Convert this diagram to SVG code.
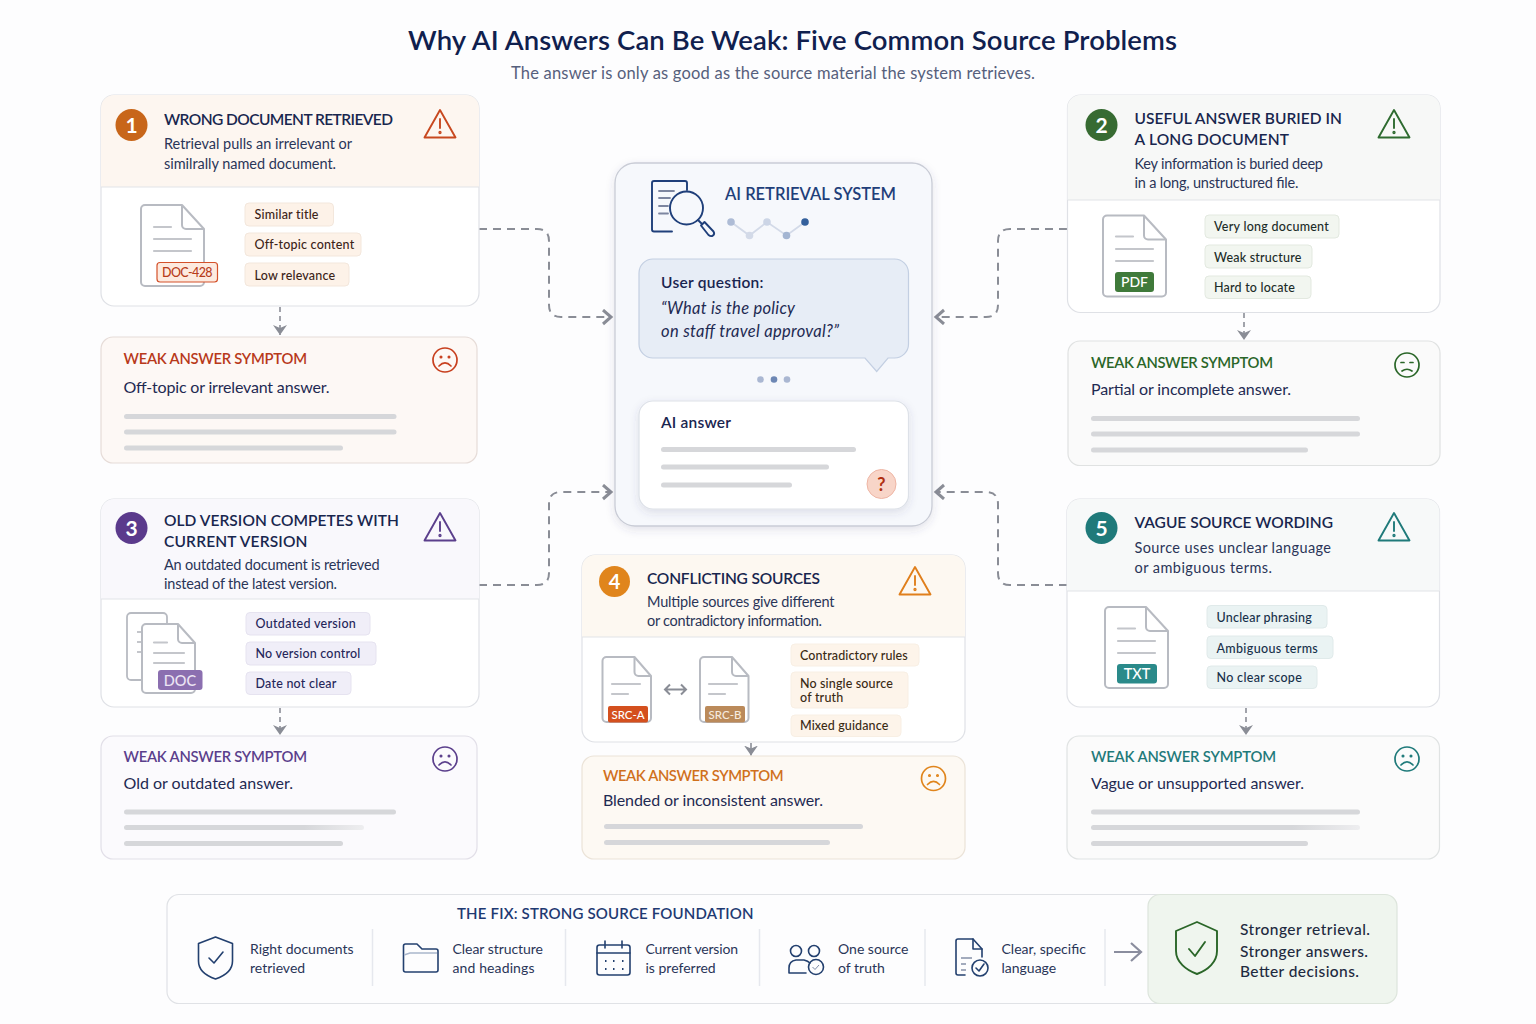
<svg xmlns="http://www.w3.org/2000/svg" width="1536" height="1024" viewBox="0 0 1536 1024">
<style>
text{font-family:"Lato","Noto Sans","Liberation Sans",sans-serif;fill:#1e2a52}
.h1{font-size:27.5px;font-weight:600;fill:#10204e}
.sub{font-size:16.5px;fill:#56607c}
.t{font-size:15.5px;font-weight:600;fill:#18264e}
.d{font-size:14.5px;fill:#2a3558}
.tag{font-size:12.5px;font-weight:500;letter-spacing:.2px}
.st{font-size:14.800px;font-weight:600}
.sd{font-size:16px;fill:#1f2a52}
.num{font-size:21px;font-weight:700;fill:#fff;text-anchor:middle}
.lbl{font-weight:700;text-anchor:middle;fill:#fff}
.card{fill:#fff;stroke:#dfe1e6;stroke-width:1.2}
.div{stroke:#e2e3e8;stroke-width:1.2}
.bar{fill:#d6d7da}
.chip{stroke-width:1}
.fx{font-size:14px;fill:#2a3558}
.fd{stroke:#e6e8ee;stroke-width:1.5}
.ic{fill:none;stroke:#23406f;stroke-width:1.6;stroke-linejoin:round;stroke-linecap:round}
.ln{stroke:#c4c6cb;stroke-width:2.2;stroke-linecap:round}
.dash{fill:none;stroke:#8a8d96;stroke-width:2;stroke-dasharray:8 6}
.dn{fill:none;stroke:#8a8d96;stroke-width:1.6;stroke-dasharray:5 4}
</style>
<defs>
<filter id="sh" x="-10%" y="-10%" width="120%" height="125%"><feDropShadow dx="0" dy="3" stdDeviation="4" flood-color="#3c4a70" flood-opacity=".14"/></filter>
<linearGradient id="fade"><stop offset=".75" stop-color="#d6d7da"/><stop offset="1" stop-color="#eeeef0"/></linearGradient>
<marker id="ch" markerUnits="userSpaceOnUse" markerWidth="16" markerHeight="18" refX="12" refY="8" orient="auto"><path d="M4 1L12 8L4 15" fill="none" stroke="#8a8d96" stroke-width="3"/></marker>
<marker id="tip" markerUnits="userSpaceOnUse" markerWidth="14" markerHeight="14" refX="10" refY="7" orient="auto"><path d="M0 0L10 7L0 14L3 7Z" fill="#8a8d96"/></marker>
<g id="warn" fill="none" stroke="currentColor" stroke-width="1.9" stroke-linejoin="round" stroke-linecap="round"><path d="M0 0L15.500 27.500H-15.500Z"/><path d="M0 9V18"/><circle cx="0" cy="22.500" r=".7"/></g>
<g id="sad" fill="none" stroke="currentColor" stroke-width="1.7" stroke-linecap="round"><circle r="12"/><circle cx="-4" cy="-3" r=".7"/><circle cx="4" cy="-3" r=".7"/><path d="M-6 6Q0 0 6 6"/></g>
<g id="doc" fill="#fff" stroke="#b8bbc2" stroke-width="2" stroke-linejoin="round"><path d="M4 0H41L63 24V77a4 4 0 0 1-4 4H4a4 4 0 0 1-4-4V4a4 4 0 0 1 4-4Z"/><path d="M41 0V20a4 4 0 0 0 4 4H63" fill="none"/></g>
<g id="mdoc" fill="#fff" stroke="#b8bbc2" stroke-width="2" stroke-linejoin="round"><path d="M4 0H32L48.500 19V61a4 4 0 0 1-4 4H4a4 4 0 0 1-4-4V4a4 4 0 0 1 4-4Z"/><path d="M32 0V15a4 4 0 0 0 4 4H48.500" fill="none"/></g>
<path id="shield" d="M0 -21L17 -14.500V3C17 12 9 18 0 21C-9 18 -17 12 -17 3V-14.500Z"/>
</defs>
<rect width="1536" height="1024" fill="#fdfdfe"/>
<g id="title"><text class="h1" x="408" y="50" textLength="769">Why AI Answers Can Be Weak: Five Common Source Problems</text>
<text class="sub" x="511" y="79" textLength="524">The answer is only as good as the source material the system retrieves.</text></g>

<g id="connectors">
<path class="dash" marker-end="url(#ch)" d="M479 229H537Q549 229 549 241V305Q549 317 561 317H611"/>
<path class="dash" marker-end="url(#ch)" d="M1067 229H1010Q998 229 998 241V305Q998 317 986 317H936"/>
<path class="dash" marker-end="url(#ch)" d="M479 585H537Q549 585 549 573V504Q549 492 561 492H611"/>
<path class="dash" marker-end="url(#ch)" d="M1067 585H1010Q998 585 998 573V504Q998 492 986 492H936"/>
<path class="dn" marker-end="url(#tip)" d="M280 307V335"/>
<path class="dn" marker-end="url(#tip)" d="M280 708V735"/>
<path class="dn" marker-end="url(#tip)" d="M1244 313V340"/>
<path class="dn" marker-end="url(#tip)" d="M1246 708V735"/>
<path fill="none" stroke="#8a8d96" stroke-width="1.600" marker-end="url(#tip)" d="M751 743V755.500"/>
</g>

<g id="card-1">
<rect class="card" x="101" y="95" width="378" height="211" rx="13"/>
<path d="M101 187V108a13 13 0 0 1 13-13H466a13 13 0 0 1 13 13V187Z" fill="#fdf6f0"/>
<line class="div" x1="101" y1="187" x2="479" y2="187"/>
<circle cx="131.500" cy="125" r="16" fill="#c8661a"/><text class="num" x="131.500" y="132.500">1</text>
<text class="t" x="164" y="125" textLength="229">WRONG DOCUMENT RETRIEVED</text>
<text class="d" x="164" y="149" textLength="188">Retrieval pulls an irrelevant or</text>
<text class="d" x="164" y="169" textLength="172">similrally named document.</text>
<use href="#warn" x="440" y="110" color="#c8481f"/>
<use href="#doc" x="141" y="205"/>
<line class="ln" x1="154" y1="227" x2="171" y2="227"/><line class="ln" x1="154" y1="239" x2="191" y2="239"/><line class="ln" x1="154" y1="251" x2="191" y2="251"/>
<rect x="157" y="262.500" width="60.500" height="19.500" rx="3" fill="#fdeadf" stroke="#d4512a" stroke-width="1.200"/>
<text x="162" y="277" textLength="50.500" font-size="12.500" font-weight="500" style="fill:#b83c1a">DOC-428</text>
<g fill="#fdf2e8" stroke="#f3e7dc"><rect class="chip" x="245" y="203" width="88.500" height="23" rx="4"/><rect class="chip" x="245" y="233" width="116" height="23" rx="4"/><rect class="chip" x="245" y="263" width="104" height="23" rx="4"/></g>
<text class="tag" x="254.500" y="218.500" style="fill:#3c2418">Similar title</text><text class="tag" x="254.500" y="249" style="fill:#3c2418">Off-topic content</text><text class="tag" x="254.500" y="279.500" style="fill:#3c2418">Low relevance</text>
</g>
<g id="symptom-1">
<rect x="101" y="337" width="376" height="126" rx="12" fill="#fdf8f5" stroke="#e6dcd8" stroke-width="1.200"/>
<text class="st" x="123.500" y="364" textLength="183.500" style="fill:#b8391a">WEAK ANSWER SYMPTOM</text>
<text class="sd" x="123.500" y="393" textLength="206">Off-topic or irrelevant answer.</text>
<use href="#sad" x="445" y="360" color="#c8401f"/>
<rect class="bar" x="124" y="414" width="272.500" height="5" rx="2.500"/><rect class="bar" x="124" y="429.500" width="272.500" height="5" rx="2.500"/><rect class="bar" x="124" y="445.500" width="219" height="5" rx="2.500"/>
</g>

<g id="card-2">
<rect class="card" x="1067.500" y="95" width="372.500" height="217.500" rx="13"/>
<path d="M1067.500 200V108a13 13 0 0 1 13-13H1427a13 13 0 0 1 13 13V200Z" fill="#f7f8f7"/>
<line class="div" x1="1067.500" y1="200" x2="1440" y2="200"/>
<circle cx="1101.500" cy="125" r="16" fill="#376b32"/><text class="num" x="1101.500" y="132.500">2</text>
<text class="t" x="1134.500" y="124" textLength="207.500">USEFUL ANSWER BURIED IN</text>
<text class="t" x="1134.500" y="145" textLength="154.500">A LONG DOCUMENT</text>
<text class="d" x="1134.500" y="169" textLength="188.500">Key information is buried deep</text>
<text class="d" x="1134.500" y="188" textLength="164">in a long, unstructured file.</text>
<use href="#warn" x="1394" y="110" color="#2e6b30"/>
<use href="#doc" x="1103" y="215.500"/>
<line class="ln" x1="1116" y1="236.500" x2="1133" y2="236.500"/><line class="ln" x1="1116" y1="249" x2="1153" y2="249"/><line class="ln" x1="1116" y1="261" x2="1153" y2="261"/>
<rect x="1115" y="272" width="39" height="20" rx="3" fill="#3f7a3a"/>
<text class="lbl" x="1134.500" y="287" font-size="14" style="font-weight:500">PDF</text>
<g fill="#f2f6f0" stroke="#e3e9e0"><rect class="chip" x="1205" y="215" width="134" height="23" rx="4"/><rect class="chip" x="1205" y="245" width="107" height="23" rx="4"/><rect class="chip" x="1205" y="276" width="106" height="22.500" rx="4"/></g>
<text class="tag" x="1214" y="231" textLength="115" style="fill:#1c2c28">Very long document</text><text class="tag" x="1214" y="261.500" style="fill:#1c2c28">Weak structure</text><text class="tag" x="1214" y="292" style="fill:#1c2c28">Hard to locate</text>
</g>
<g id="symptom-2">
<rect x="1068" y="341" width="372" height="124.500" rx="12" fill="#fafafa" stroke="#e0e2e2" stroke-width="1.200"/>
<text class="st" x="1091" y="367.500" textLength="182" style="fill:#2a6628">WEAK ANSWER SYMPTOM</text>
<text class="sd" x="1091" y="395" textLength="200">Partial or incomplete answer.</text>
<g fill="none" stroke="#2a6628" stroke-width="1.700" stroke-linecap="round"><circle cx="1407" cy="365" r="12"/><path d="M1401 362.500H1404M1410 362.500H1413M1402 371Q1407 367.500 1412 371"/></g>
<rect class="bar" x="1091" y="416" width="269" height="5" rx="2.500"/><rect class="bar" x="1091" y="431.500" width="269" height="5" rx="2.500"/><rect class="bar" x="1091" y="447.500" width="217" height="5" rx="2.500"/>
</g>

<g id="card-3">
<rect class="card" x="101" y="499" width="378" height="208" rx="13"/>
<path d="M101 599V512a13 13 0 0 1 13-13H466a13 13 0 0 1 13 13V599Z" fill="#f9f8fc"/>
<line class="div" x1="101" y1="599" x2="479" y2="599"/>
<circle cx="131.500" cy="528" r="16" fill="#5b3a8c"/><text class="num" x="131.500" y="535.500">3</text>
<text class="t" x="164" y="526" textLength="235">OLD VERSION COMPETES WITH</text>
<text class="t" x="164" y="547" textLength="143.500">CURRENT VERSION</text>
<text class="d" x="164" y="570" textLength="215.500">An outdated document is retrieved</text>
<text class="d" x="164" y="589" textLength="173">instead of the latest version.</text>
<use href="#warn" x="440" y="513" color="#5b3f8c"/>
<rect x="127" y="613" width="40" height="67" rx="4" fill="#fff" stroke="#b8bbc2" stroke-width="1.800"/>
<path d="M137 632h5M137 642h5M137 652h5" stroke="#c4c6cb" stroke-width="2"/>
<g fill="#fff" stroke="#b8bbc2" stroke-width="2" stroke-linejoin="round"><path d="M146 624H178L195 643V689a4 4 0 0 1-4 4H146a4 4 0 0 1-4-4V628a4 4 0 0 1 4-4Z"/><path d="M178 624V639a4 4 0 0 0 4 4H195" fill="none"/></g>
<line class="ln" x1="154" y1="642.500" x2="167" y2="642.500"/><line class="ln" x1="154" y1="653" x2="184" y2="653"/><line class="ln" x1="154" y1="663" x2="184" y2="663"/>
<rect x="158" y="670" width="44.500" height="20" rx="3" fill="#8b6fb0"/>
<text x="180" y="685.500" text-anchor="middle" font-size="14.500" font-weight="500" style="fill:#ece5f4">DOC</text>
<g fill="#f0eef8" stroke="#e6e3f0"><rect class="chip" x="246" y="612.500" width="124" height="22.500" rx="4"/><rect class="chip" x="246" y="642" width="130" height="23" rx="4"/><rect class="chip" x="246" y="672" width="105" height="22.500" rx="4"/></g>
<text class="tag" x="255.500" y="628" textLength="100.500" style="fill:#25265a">Outdated version</text><text class="tag" x="255.500" y="658" textLength="105" style="fill:#25265a">No version control</text><text class="tag" x="255.500" y="688" textLength="81" style="fill:#25265a">Date not clear</text>
</g>
<g id="symptom-3">
<rect x="101" y="736" width="376" height="123" rx="12" fill="#fbfafd" stroke="#e2dfe8" stroke-width="1.200"/>
<text class="st" x="123.500" y="762" textLength="183.500" style="fill:#5b3f8c">WEAK ANSWER SYMPTOM</text>
<text class="sd" x="123.500" y="789" textLength="169.500">Old or outdated answer.</text>
<use href="#sad" x="445" y="759" color="#5b3f8c"/>
<rect class="bar" x="124" y="809.500" width="272" height="5" rx="2.500"/><rect x="124" y="825" width="240" height="5" rx="2.500" fill="url(#fade)"/><rect class="bar" x="124" y="841" width="219" height="5" rx="2.500"/>
</g>

<g id="card-4">
<rect class="card" x="582" y="555" width="383" height="187" rx="13"/>
<path d="M582 637V568a13 13 0 0 1 13-13H952a13 13 0 0 1 13 13V637Z" fill="#fdf8f1"/>
<line class="div" x1="582" y1="637" x2="965" y2="637"/>
<circle cx="614.500" cy="581.500" r="15.500" fill="#e0851c"/><text class="num" x="614.500" y="588.500" style="font-size:20px">4</text>
<text class="t" x="647" y="583.500" textLength="173">CONFLICTING SOURCES</text>
<text class="d" x="647" y="607" textLength="187.500">Multiple sources give different</text>
<text class="d" x="647" y="626" textLength="175">or contradictory information.</text>
<use href="#warn" x="915" y="567" color="#e07f1c"/>
<use href="#mdoc" x="602.500" y="657"/>
<line class="ln" x1="612" y1="684" x2="640" y2="684"/><line class="ln" x1="612" y1="694" x2="628" y2="694"/>
<rect x="608" y="706" width="40" height="16.500" rx="2" fill="#d4501e"/>
<text class="lbl" x="628" y="718.500" font-size="11.500" style="font-weight:500">SRC-A</text>
<use href="#mdoc" x="700" y="657"/>
<line class="ln" x1="709" y1="684" x2="737" y2="684"/><line class="ln" x1="709" y1="694" x2="725" y2="694"/>
<rect x="705" y="706" width="40" height="16.500" rx="2" fill="#bb8a5a"/>
<text class="lbl" x="725" y="718.500" font-size="11.500" style="font-weight:500;fill:#f6ebdf">SRC-B</text>
<path d="M665 689.500H686M670 684.500L665 689.500L670 694.500M681 684.500L686 689.500L681 694.500" fill="none" stroke="#8a8d96" stroke-width="2"/>
<g fill="#fdf4ea" stroke="#f8efe4"><rect class="chip" x="791" y="644" width="128" height="22" rx="4"/><rect class="chip" x="791" y="672" width="117" height="36" rx="4"/><rect class="chip" x="791" y="715" width="110" height="21.500" rx="4"/></g>
<text class="tag" x="800" y="659.500" textLength="108" style="fill:#3a2a14">Contradictory rules</text><text class="tag" x="800" y="687.500" textLength="93" style="fill:#3a2a14">No single source</text><text class="tag" x="800" y="702" style="fill:#3a2a14">of truth</text><text class="tag" x="800" y="730" textLength="88.500" style="fill:#3a2a14">Mixed guidance</text>
</g>
<g id="symptom-4">
<rect x="582" y="756" width="383" height="103" rx="12" fill="#fdf9f3" stroke="#ebe3d8" stroke-width="1.200"/>
<text class="st" x="603" y="781" textLength="180.500" style="fill:#d0701c">WEAK ANSWER SYMPTOM</text>
<text class="sd" x="603" y="805.500" textLength="220">Blended or inconsistent answer.</text>
<use href="#sad" x="933.500" y="778.500" color="#e0851c"/>
<rect class="bar" x="604" y="824" width="259" height="5" rx="2.500"/><rect class="bar" x="604" y="840" width="226" height="5" rx="2.500"/>
</g>

<g id="card-5">
<rect class="card" x="1067" y="499" width="372.500" height="208" rx="13"/>
<path d="M1067 591V512a13 13 0 0 1 13-13H1426.500a13 13 0 0 1 13 13V591Z" fill="#f7f9f9"/>
<line class="div" x1="1067" y1="591" x2="1439.500" y2="591"/>
<circle cx="1101.500" cy="528" r="16" fill="#1f7a7a"/><text class="num" x="1101.500" y="535.500">5</text>
<text class="t" x="1134.500" y="527.500" textLength="198.500">VAGUE SOURCE WORDING</text>
<text class="d" x="1134.500" y="553" textLength="196.500">Source uses unclear language</text>
<text class="d" x="1134.500" y="573" textLength="137.500">or ambiguous terms.</text>
<use href="#warn" x="1394" y="513" color="#1f7a7a"/>
<use href="#doc" x="1105" y="607"/>
<line class="ln" x1="1118" y1="628.500" x2="1135" y2="628.500"/><line class="ln" x1="1118" y1="641" x2="1155" y2="641"/><line class="ln" x1="1118" y1="653" x2="1155" y2="653"/>
<rect x="1117" y="664" width="40" height="19.500" rx="3" fill="#2a8a8a"/>
<text class="lbl" x="1137" y="679" font-size="14.500" style="font-weight:500">TXT</text>
<g fill="#eaf3f3" stroke="#e0eaea"><rect class="chip" x="1207" y="605.500" width="120" height="22.500" rx="4"/><rect class="chip" x="1207" y="636" width="126" height="22.500" rx="4"/><rect class="chip" x="1207" y="666" width="110" height="22.500" rx="4"/></g>
<text class="tag" x="1216.500" y="622" textLength="95.500" style="fill:#17304a">Unclear phrasing</text><text class="tag" x="1216.500" y="652.500" textLength="101.500" style="fill:#17304a">Ambiguous terms</text><text class="tag" x="1216.500" y="682" textLength="85.500" style="fill:#17304a">No clear scope</text>
</g>
<g id="symptom-5">
<rect x="1067" y="736" width="372.500" height="123" rx="12" fill="#fbfbfb" stroke="#e0e3e3" stroke-width="1.200"/>
<text class="st" x="1091" y="762" textLength="185" style="fill:#1f7a7a">WEAK ANSWER SYMPTOM</text>
<text class="sd" x="1091" y="789" textLength="213">Vague or unsupported answer.</text>
<use href="#sad" x="1407" y="759" color="#1f7a7a"/>
<rect class="bar" x="1091" y="809.500" width="269" height="5" rx="2.500"/><rect x="1091" y="825" width="269" height="5" rx="2.500" fill="url(#fade)"/><rect class="bar" x="1091" y="841" width="217" height="5" rx="2.500"/>
</g>

<g id="ai-system">
<rect x="615" y="163" width="317" height="363" rx="20" fill="#f6f8fc" stroke="#c9ccd6" stroke-width="1.300" filter="url(#sh)"/>
<g fill="none" stroke="#1f3f7a" stroke-width="1.900" stroke-linejoin="round" stroke-linecap="round">
<path d="M672 231.500H654a2 2 0 0 1-2-2V183a2 2 0 0 1 2-2H685a2 2 0 0 1 2 2V190"/>
<circle cx="686.500" cy="208" r="16.500" fill="#f6f8fc"/>
<path d="M698 220L702 224"/><path d="M701 225.500L704.500 222L713.500 231.500Q715 234 713 235.500Q711 237 708.500 235Z"/></g>
<path d="M659 191H674M659 198H670M659 206H668M659 213.500H668" stroke="#7d86a0" stroke-width="1.800" stroke-linecap="round"/>
<text x="725" y="199.500" textLength="171" font-size="16.500" font-weight="600" style="fill:#1f3f7a">AI RETRIEVAL SYSTEM</text>
<path d="M731 222L749.500 235.500L767 222L786.500 235.500L805 222" fill="none" stroke="#d3dae8" stroke-width="1.800"/>
<circle cx="731" cy="222" r="3.800" fill="#aebcd6"/><circle cx="749.500" cy="235.500" r="3.800" fill="#d3dae8"/><circle cx="767" cy="222" r="3.800" fill="#ccd5e6"/><circle cx="786.500" cy="235.500" r="3.800" fill="#a3b5d2"/><circle cx="805" cy="222" r="3.800" fill="#34609c"/>
<path d="M653 259H894.500a14 14 0 0 1 14 14V344a14 14 0 0 1-14 14H888L876.700 371.500L865 358H653a14 14 0 0 1-14-14V273a14 14 0 0 1 14-14Z" fill="#e7edf6" stroke="#c3cfe2" stroke-width="1.200"/>
<text x="661" y="287.500" textLength="102.500" font-size="15.500" font-weight="600" style="fill:#1a2550">User question:</text>
<text x="661" y="313.500" textLength="134" font-size="16.500" font-style="italic" style="fill:#1e2a52">“What is the policy</text>
<text x="661" y="337" textLength="178" font-size="16.500" font-style="italic" style="fill:#1e2a52">on staff travel approval?”</text>
<circle cx="760.500" cy="379.500" r="3.300" fill="#aab7d2"/><circle cx="774" cy="379.500" r="3.300" fill="#6d87b4"/><circle cx="787" cy="379.500" r="3.300" fill="#aab7d2"/>
<rect x="639" y="401" width="269.500" height="108" rx="14" fill="#fff" stroke="#dde1e8" stroke-width="1.200" filter="url(#sh)"/>
<text x="661" y="428" textLength="70" font-size="15.500" font-weight="600" style="fill:#1a2550">AI answer</text>
<rect class="bar" x="661" y="447" width="195" height="5" rx="2.500"/><rect class="bar" x="661" y="464.500" width="168" height="5" rx="2.500"/><rect class="bar" x="661" y="482.500" width="131" height="5" rx="2.500"/>
<circle cx="881.500" cy="484" r="14.500" fill="#f8d5c8" stroke="#eeb5a4" stroke-width="1"/>
<text x="881.500" y="490.500" text-anchor="middle" font-size="18" font-weight="700" style="fill:#b03010">?</text>
</g>

<g id="fix-bar">
<rect x="167" y="894.500" width="1000" height="109" rx="12" fill="#fdfdfe" stroke="#e0e2e6" stroke-width="1.200"/>
<text x="457" y="919" textLength="296.500" font-size="15" font-weight="600" style="fill:#1f3a72">THE FIX: STRONG SOURCE FOUNDATION</text>
<line class="fd" x1="372.500" y1="929" x2="372.500" y2="986"/><line class="fd" x1="565.500" y1="929" x2="565.500" y2="986"/><line class="fd" x1="759.500" y1="929" x2="759.500" y2="986"/><line class="fd" x1="925" y1="929" x2="925" y2="986"/><line class="fd" x1="1105" y1="929" x2="1105" y2="986"/>
<use href="#shield" x="215.500" y="958" class="ic"/><path class="ic" d="M209 958L214 963L223 952"/>
<text class="fx" x="250" y="954">Right documents</text><text class="fx" x="250" y="973">retrieved</text>
<path class="ic" d="M403.500 946a2 2 0 0 1 2-2H417L422 949H436a2 2 0 0 1 2 2V970a2 2 0 0 1-2 2H405.500a2 2 0 0 1-2-2Z"/><path d="M404 955L410 953H437" fill="none" stroke="#a9b6cc" stroke-width="1.400"/>
<text class="fx" x="452.500" y="954" textLength="90.500">Clear structure</text><text class="fx" x="452.500" y="973" textLength="82">and headings</text>
<rect class="ic" x="597" y="945" width="33" height="30" rx="2.500"/><path class="ic" d="M597 953H630M605 941V948M622 941V948"/>
<path d="M605 961h1.500M613 961h1.500M622 961h1.500M605 969h1.500M613 969h1.500M622 969h1.500" stroke="#23406f" stroke-width="2"/>
<text class="fx" x="645.500" y="954" textLength="92.500">Current version</text><text class="fx" x="645.500" y="973">is preferred</text>
<circle class="ic" cx="796" cy="951" r="5.500"/><circle class="ic" cx="814" cy="951" r="5.500"/><path class="ic" d="M789 973V968Q789 961 796 960H804Q808 961 810 963M789 973H806"/><circle class="ic" cx="816" cy="967" r="7.500"/><path d="M812.500 967L815 969.500L819 965" fill="none" stroke="#7d8aa5" stroke-width="1"/>
<text class="fx" x="838" y="954">One source</text><text class="fx" x="838" y="973">of truth</text>
<path class="ic" d="M965 975H958a2 2 0 0 1-2-2V941a2 2 0 0 1 2-2H973L982 949V957"/><path class="ic" d="M973 939V949H982"/><path d="M961 958H972M961 964H966M961 970H966" stroke="#8590a8" stroke-width="1.500"/><circle class="ic" cx="980" cy="968" r="8"/><path class="ic" d="M976 968L979 971L984 964"/>
<text class="fx" x="1001.500" y="954">Clear, specific</text><text class="fx" x="1001.500" y="973">language</text>
<path d="M1114 952H1141M1131 943L1141 952L1131 961" fill="none" stroke="#8a8d9e" stroke-width="2.200"/>
</g>
<g id="fix-result">
<rect x="1148" y="894.500" width="249" height="109" rx="12" fill="#eff5ee" stroke="#dde5dc" stroke-width="1.200"/>
<g fill="none" stroke="#2a6628" stroke-width="1.900" stroke-linejoin="round" stroke-linecap="round"><path d="M1197 922L1217 931V951C1217 962 1208 970 1197 974C1186 970 1176 962 1176 951V931Z"/><path d="M1189 949L1195 956L1205 942"/></g>
<text x="1240" y="935" textLength="130" font-size="15.500" font-weight="500" style="fill:#1e2a40">Stronger retrieval.</text>
<text x="1240" y="957" textLength="128" font-size="15.500" font-weight="500" style="fill:#1e2a40">Stronger answers.</text>
<text x="1240" y="977" textLength="119" font-size="15.500" font-weight="500" style="fill:#1e2a40">Better decisions.</text>
</g>
</svg>
